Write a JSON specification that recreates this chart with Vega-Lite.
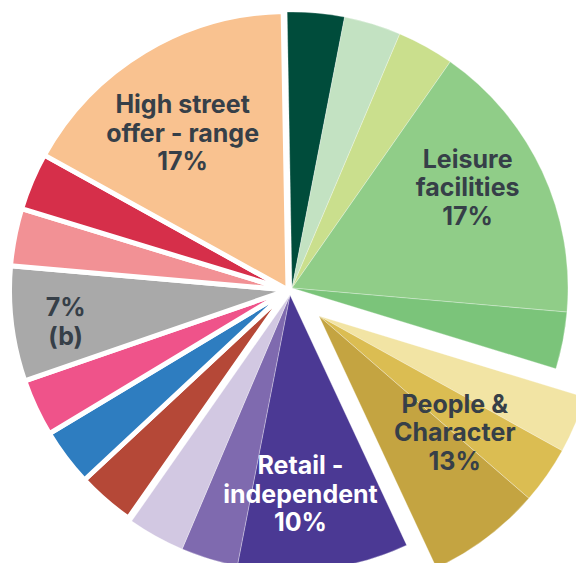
{
  "$schema": "https://vega.github.io/schema/vega-lite/v6.json",
  "width": 576,
  "height": 563,
  "padding": 0,
  "autosize": {"type": "none"},
  "background": "#ffffff",
  "config": {"view": {"stroke": null}},
  "data": {
    "values": [
      {"order": 1, "name": "Leisure - a", "grp": "Leisure", "value": 3.33, "label": ""},
      {"order": 2, "name": "Leisure - b", "grp": "Leisure", "value": 3.33, "label": ""},
      {"order": 3, "name": "Leisure - c", "grp": "Leisure", "value": 3.33, "label": ""},
      {"order": 4, "name": "Leisure facilities", "grp": "Leisure", "value": 16.67, "label": "Leisure\nfacilities\n17%"},
      {"order": 5, "name": "Leisure - d", "grp": "Leisure", "value": 3.33, "label": ""},
      {"order": 6, "name": "People - a", "grp": "People", "value": 3.33, "label": ""},
      {"order": 7, "name": "People - b", "grp": "People", "value": 3.33, "label": ""},
      {"order": 8, "name": "People & Character", "grp": "People", "value": 6.67, "label": "People &\nCharacter\n13%"},
      {"order": 9, "name": "Retail - independent", "grp": "Retail", "value": 10, "label": "Retail -\nindependent\n10%"},
      {"order": 10, "name": "Retail - a", "grp": "Retail", "value": 3.33, "label": ""},
      {"order": 11, "name": "Retail - b", "grp": "Retail", "value": 3.33, "label": ""},
      {"order": 12, "name": "Other - a", "grp": "Single", "value": 3.33, "label": ""},
      {"order": 13, "name": "Other - b", "grp": "Single", "value": 3.33, "label": ""},
      {"order": 14, "name": "Other - c", "grp": "Single", "value": 3.33, "label": ""},
      {"order": 15, "name": "(b)", "grp": "Single", "value": 6.67, "label": "7%\n(b)"},
      {"order": 16, "name": "Other - d", "grp": "Single", "value": 3.33, "label": ""},
      {"order": 17, "name": "Other - e", "grp": "Single", "value": 3.33, "label": ""},
      {"order": 18, "name": "High street offer - range", "grp": "Single", "value": 16.67, "label": "High street\noffer - range\n17%"}
    ]
  },
  "encoding": {
    "theta": {"field": "value", "type": "quantitative", "stack": true, "scale": {"range": [-0.01745, 6.26573]}},
    "order": {"field": "order", "type": "quantitative"},
    "detail": {"field": "name", "type": "nominal"}
  },
  "layer": [
    {
      "mark": {"type": "arc", "radius": 278.5, "stroke": "#ffffff", "strokeWidth": 5, "strokeJoin": "round", "xOffset": 0, "yOffset": 8.5},
      "encoding": {
        "color": {"field": "name", "type": "nominal", "legend": null,
          "scale": {
            "domain": ["Leisure - a", "Leisure - b", "Leisure - c", "Leisure facilities", "Leisure - d", "People - a", "People - b", "People & Character", "Retail - independent", "Retail - a", "Retail - b", "Other - a", "Other - b", "Other - c", "(b)", "Other - d", "Other - e", "High street offer - range"],
            "range": ["#004C3B", "#C3E2C2", "#CADF8D", "#90CD88", "#7BC47A", "#F2E4A4", "#DBBD52", "#C4A441", "#4B3994", "#7F6AAF", "#D2C8E2", "#B54837", "#2E7DC0", "#EF538A", "#A9A9A9", "#F29195", "#D62F4A", "#F9C290"]
          }},
        "opacity": {"condition": {"test": "datum.grp === 'Single'", "value": 1}, "value": 0}
      }
    },
    {
      "mark": {"type": "arc", "radius": 276, "stroke": "#ffffff", "strokeWidth": 0.6, "strokeOpacity": 0.5, "xOffset": 4, "yOffset": 6.5},
      "encoding": {
        "color": {"field": "name", "type": "nominal", "legend": null},
        "opacity": {"condition": {"test": "datum.grp === 'Leisure'", "value": 1}, "value": 0}
      }
    },
    {
      "mark": {"type": "arc", "radius": 278, "stroke": "#ffffff", "strokeWidth": 0.6, "strokeOpacity": 0.5, "xOffset": 31, "yOffset": 34.5},
      "encoding": {
        "color": {"field": "name", "type": "nominal", "legend": null},
        "opacity": {"condition": {"test": "datum.grp === 'People'", "value": 1}, "value": 0}
      }
    },
    {
      "mark": {"type": "arc", "radius": 276, "stroke": "#ffffff", "strokeWidth": 0.6, "strokeOpacity": 0.5, "xOffset": 2, "yOffset": 13.5},
      "encoding": {
        "color": {"field": "name", "type": "nominal", "legend": null},
        "opacity": {"condition": {"test": "datum.grp === 'Retail'", "value": 1}, "value": 0}
      }
    },
    {
      "mark": {"type": "text", "radius": 189, "xOffset": -8, "yOffset": -14.5, "font": "Inter", "fontWeight": 700, "fontSize": 25, "lineHeight": 28.5, "lineBreak": "\n", "fill": "#363F48", "align": "center", "baseline": "middle"},
      "encoding": {
        "text": {"field": "label", "type": "nominal"},
        "opacity": {"condition": {"test": "datum.name === 'High street offer - range'", "value": 1}, "value": 0}
      }
    },
    {
      "mark": {"type": "text", "radius": 196, "xOffset": 2, "yOffset": -39, "font": "Inter", "fontWeight": 700, "fontSize": 25, "lineHeight": 28.5, "lineBreak": "\n", "fill": "#363F48", "align": "center", "baseline": "middle"},
      "encoding": {
        "text": {"field": "label", "type": "nominal"},
        "opacity": {"condition": {"test": "datum.name === 'Leisure facilities'", "value": 1}, "value": 0}
      }
    },
    {
      "mark": {"type": "text", "radius": 179, "xOffset": 59, "yOffset": -19.5, "font": "Inter", "fontWeight": 700, "fontSize": 25, "lineHeight": 28.5, "lineBreak": "\n", "fill": "#363F48", "align": "center", "baseline": "middle"},
      "encoding": {
        "text": {"field": "label", "type": "nominal"},
        "opacity": {"condition": {"test": "datum.name === 'People & Character'", "value": 1}, "value": 0}
      }
    },
    {
      "mark": {"type": "text", "radius": 201, "xOffset": -12, "yOffset": -15, "font": "Inter", "fontWeight": 700, "fontSize": 25, "lineHeight": 28.5, "lineBreak": "\n", "fill": "#ffffff", "align": "center", "baseline": "middle"},
      "encoding": {
        "text": {"field": "label", "type": "nominal"},
        "opacity": {"condition": {"test": "datum.name === 'Retail - independent'", "value": 1}, "value": 0}
      }
    },
    {
      "mark": {"type": "text", "radius": 224, "xOffset": 0, "yOffset": -0.75, "font": "Inter", "fontWeight": 700, "fontSize": 25, "lineHeight": 28.5, "lineBreak": "\n", "fill": "#363F48", "align": "center", "baseline": "middle"},
      "encoding": {
        "text": {"field": "label", "type": "nominal"},
        "opacity": {"condition": {"test": "datum.name === '(b)'", "value": 1}, "value": 0}
      }
    }
  ]
}
